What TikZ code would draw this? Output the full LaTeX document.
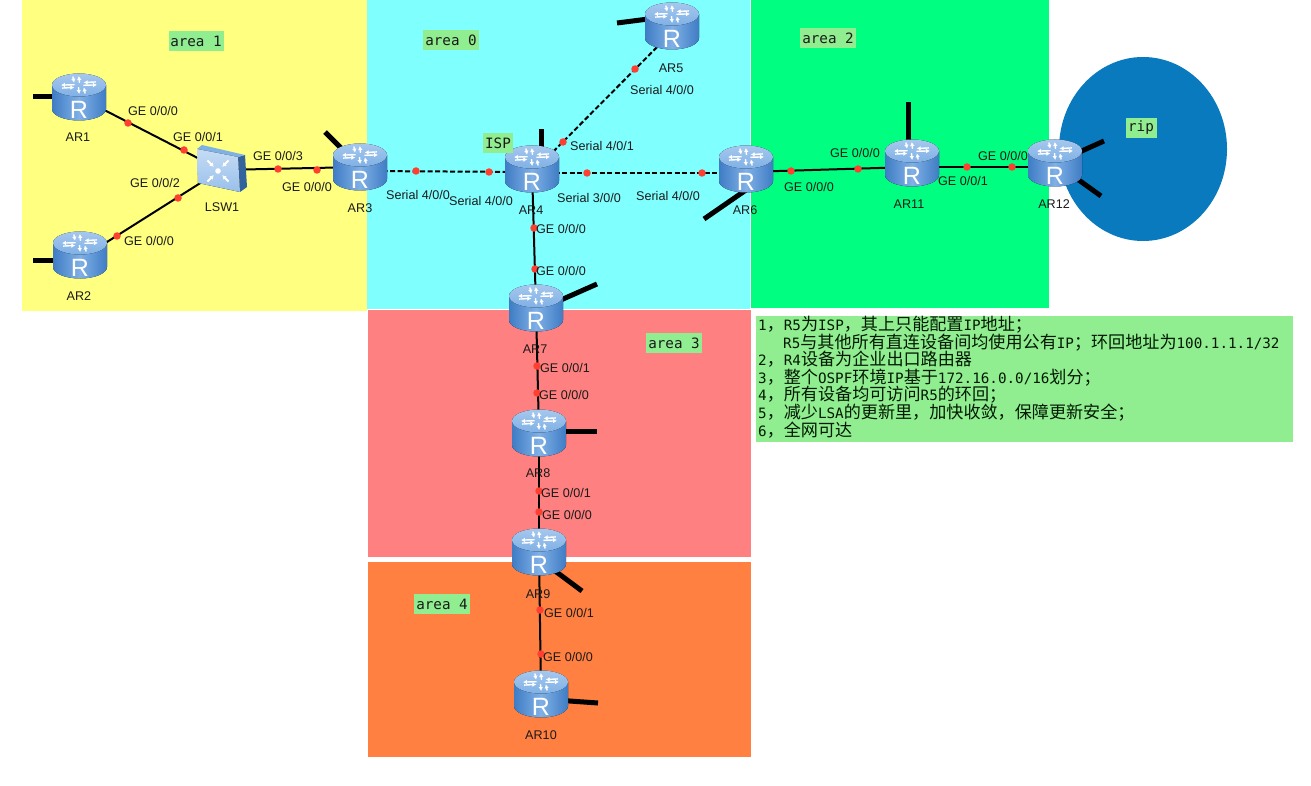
\documentclass[tikz,border=0pt]{standalone}
\usepackage{fontspec}
\setmainfont{Liberation Sans}
\newfontfamily\monof{DejaVu Sans Mono}
\newfontfamily\cjkf{Noto Sans CJK SC}
\usetikzlibrary{calc,arrows.meta}
\definecolor{yel}{HTML}{FFFF80}
\definecolor{cya}{HTML}{80FFFF}
\definecolor{grn}{HTML}{00FF80}
\definecolor{redb}{HTML}{FF8080}
\definecolor{ora}{HTML}{FF8040}
\definecolor{ripc}{HTML}{0A7ABF}
\definecolor{note}{HTML}{90EE90}
\definecolor{dotc}{HTML}{FF4030}
\definecolor{txt}{HTML}{1A1A1A}
\definecolor{rd}{HTML}{3F7CC4}
\definecolor{rl}{HTML}{7FB0E6}
\newcommand{\C}[1]{{\cjkf\fontsize{17.1}{18}\selectfont #1}}
\tikzset{
 x=1pt,y=-1pt,
 rbox/.style={minimum width=54pt,minimum height=47pt,inner sep=0pt,outer sep=0pt},
 sbox/.style={minimum width=50pt,minimum height=46pt,inner sep=0pt,outer sep=0pt},
 link/.style={line width=2pt,black},
 serial/.style={link,dash pattern=on 5pt off 2.5pt},
 stub/.style={line width=5pt,black},
 dotn/.style={circle,fill=dotc,draw=none,minimum size=7.5pt,inner sep=0pt},
 lbl/.style={font=\fontsize{12.6}{14}\selectfont,text=txt,inner sep=0pt},
 rname/.style={font=\fontsize{12.6}{14}\selectfont,text=txt,inner sep=0pt},
 tag/.style={fill=note,font=\monof\fontsize{14.25}{16}\selectfont,text=txt,inner sep=0pt,minimum height=19.5pt},
 noteline/.style={anchor=base west,inner sep=0pt,font=\monof\fontsize{14.25}{17}\selectfont,text=black!80!green!50!black},
 pics/routericon/.style={code={
  \fill[left color=rd,right color=rd,middle color=rl] (-27,-12) -- (-27,12) arc[x radius=27,y radius=11.5,start angle=180,end angle=0] -- (27,-12) -- cycle;
  \fill[top color=rl!70!white,bottom color=rl] (0,-12) ellipse[x radius=27,y radius=11.5];
  \foreach \a in {20,110,200,290}{
   \begin{scope}[shift={(0,-12)},yscale=0.5,rotate=\a]
    \draw[white,line width=1.4pt,-{Latex[length=4pt,width=4.5pt]}] (4,2) -- (17,6);
    \draw[white,line width=1.4pt,{Latex[length=4pt,width=4.5pt]}-] (6,-3) -- (18,0);
   \end{scope}}
  \node[inner sep=0pt,text=white,font=\fontsize{25}{25}\selectfont] at (0,12.5) {R};
 }},
}
\begin{document}
\begin{tikzpicture}
\useasboundingbox (0,0) rectangle (1311,786);
\fill[white] (0,0) rectangle (1311,786);
% areas
\fill[yel] (22,0) rectangle (367,311);
\fill[cya] (367,0) rectangle (750,309);
\fill[grn] (751,0) rectangle (1049,308);
\fill[redb] (368,310) rectangle (751,557);
\fill[ora] (368,562) rectangle (751,757);
\fill[ripc] (1143,149) ellipse[x radius=84,y radius=92];
\fill[note] (756,316) rectangle (1293,442);
% device nodes
\node[rbox] (AR1) at (79,97) {};
\node[rbox] (AR2) at (80,255) {};
\node[rbox] (AR3) at (360,167) {};
\node[rbox] (AR4) at (532,169) {};
\node[rbox] (AR5) at (672,26) {};
\node[rbox] (AR6) at (746,169) {};
\node[rbox] (AR7) at (536,308) {};
\node[rbox] (AR8) at (539,433) {};
\node[rbox] (AR9) at (539,552) {};
\node[rbox] (AR10) at (541,694) {};
\node[rbox] (AR11) at (912,163) {};
\node[rbox] (AR12) at (1055,163) {};
\node[sbox] (LSW1) at (221,170) {};
% stubs
\coordinate (s1) at (33,97);
\coordinate (s2) at (33,261);
\coordinate (s3) at (325,132);
\coordinate (s4) at (541,129);
\coordinate (s5) at (617,23);
\coordinate (s6) at (704,219);
\coordinate (s7) at (597,284);
\coordinate (s8) at (597,431);
\coordinate (s9) at (582,591);
\coordinate (s10) at (598,703);
\coordinate (s11) at (908,102);
\coordinate (s12) at (1104,141);
\coordinate (s13) at (1101,196);
\draw[stub] (AR1.center) -- (s1);
\draw[stub] ([yshift=-6pt]AR2.center) -- (s2);
\draw[stub] (AR3.center) -- (s3);
\draw[stub] ([xshift=9pt]AR4.center) -- (s4);
\draw[stub] ([yshift=10pt]AR5.center) -- (s5);
\draw[stub] ([yshift=-21pt]AR6.center) -- (s6);
\draw[stub] ([yshift=-3pt]AR7.center) -- (s7);
\draw[stub] ([yshift=2pt]AR8.center) -- (s8);
\draw[stub] ([yshift=-7pt]AR9.center) -- (s9);
\draw[stub] ([yshift=-5pt]AR10.center) -- (s10);
\draw[stub] ([xshift=-4pt]AR11.center) -- (s11);
\draw[stub] (AR12.center) -- (s12);
\draw[stub] (AR12.center) -- (s13);
% links
\draw[link] (AR1.center) -- (LSW1.center);
\draw[link] ([yshift=-4pt]AR2.center) -- (LSW1.center);
\draw[link] (LSW1.center) -- (AR3.center);
\draw[serial] ([yshift=-4pt]AR3.center) -- ([yshift=-3pt]AR4.center);
\draw[serial] ([yshift=-4pt]AR4.center) -- ([yshift=-6pt]AR5.center);
\draw[serial] ([yshift=-4pt]AR4.center) -- ([yshift=-4pt]AR6.center);
\draw[link] (AR4.center) -- (AR7.center);
\draw[link] (AR7.center) -- (AR8.center);
\draw[link] (AR8.center) -- (AR9.center);
\draw[link] (AR9.center) -- (AR10.center);
\draw[link] ([yshift=-3pt]AR6.center) -- ([yshift=-4pt]AR11.center);
\draw[link] ([yshift=-4pt]AR11.center) -- ([yshift=-4pt]AR12.center);
% dots
\foreach \i/\x/\y in {1/128/123,2/184/150,3/178/198,4/117/236,5/278/169,6/317/170,7/416/171,8/489/172,9/587/173,10/702/173,11/563/142,12/635/69,13/534/228,14/535/269,15/537/366,16/537/393,17/539/491,18/539/512,19/540/610,20/541/654,21/791/171,22/858/169,23/967/167,24/1012/167}
  \node[dotn] (d\i) at (\x,\y) {};
% icons
\foreach \n in {AR1,AR2,AR3,AR4,AR5,AR6,AR7,AR8,AR9,AR10,AR11,AR12}
  \pic at (\n.center) {routericon};
% switch
\fill[rd!80!black] (238,157) -- (245,155) -- (247,187) -- (240,192) -- cycle;
\fill[rl] (197,149) -- (202,145) -- (245,155) -- (238,157) -- cycle;
\fill[top color=rl!45!white,bottom color=rl!80!white] (197,149) -- (238,157) -- (240,192) -- (198,183) -- cycle;
\begin{scope}[shift={(218,171)}]
 \foreach \a in {45,135,225,315}
  \draw[white,line width=1.8pt,-{Latex[length=4pt,width=5pt]},rotate=\a] (15,0) -- (6,0);
 \fill[white] (0,0) circle (2.8);
\end{scope}
% device names
\node[rname] (nAR1) at (78,137) {AR1};
\node[rname] (nAR2) at (79,296) {AR2};
\node[rname] (nAR3) at (360,208) {AR3};
\node[rname] (nAR4) at (531,210) {AR4};
\node[rname] (nAR5) at (671,68) {AR5};
\node[rname] (nAR6) at (745,210) {AR6};
\node[rname] (nAR7) at (535,349) {AR7};
\node[rname] (nAR8) at (538,473) {AR8};
\node[rname] (nAR9) at (538,594) {AR9};
\node[rname] (nAR10) at (541,735) {AR10};
\node[rname] (nAR11) at (909,204) {AR11};
\node[rname] (nAR12) at (1054,204) {AR12};
\node[rname] (nLSW1) at (222,207) {LSW1};
% port labels
\foreach \i/\x/\y/\t in {1/153/111/{GE 0/0/0},2/198/137/{GE 0/0/1},3/155/183/{GE 0/0/2},4/149/241/{GE 0/0/0},5/278/156/{GE 0/0/3},6/307/187/{GE 0/0/0},7/418/195/{Serial 4/0/0},8/481/201/{Serial 4/0/0},9/589/198/{Serial 3/0/0},10/668/196/{Serial 4/0/0},11/602/146/{Serial 4/0/1},12/662/90/{Serial 4/0/0},13/561/229/{GE 0/0/0},14/561/271/{GE 0/0/0},15/565/368/{GE 0/0/1},16/564/395/{GE 0/0/0},17/566/493/{GE 0/0/1},18/567/515/{GE 0/0/0},19/569/613/{GE 0/0/1},20/568/657/{GE 0/0/0},21/809/187/{GE 0/0/0},22/855/153/{GE 0/0/0},23/963/181/{GE 0/0/1},24/1003/156/{GE 0/0/0}}
  \node[lbl] (p\i) at (\x,\y) {\t};
% tags
\node[tag,minimum width=55pt] (tag1) at (196,41) {area 1};
\node[tag,minimum width=56pt] (tag0) at (451,40) {area 0};
\node[tag,minimum width=56pt] (tag2) at (828,38) {area 2};
\node[tag,minimum width=56pt] (tag3) at (674,343) {area 3};
\node[tag,minimum width=56pt] (tag4) at (442,604) {area 4};
\node[tag,minimum width=30pt] (tagi) at (498,143) {ISP};
\node[tag,minimum width=31pt] (tagr) at (1141,128) {rip};
% note
\node[noteline] (n1) at (758,330.5) {1\C{，}R5\C{为}ISP\C{，其上只能配置}IP\C{地址；}};
\node[noteline] (n2) at (783,348) {R5\C{与其他所有直连设备间均使用公有}IP\C{；环回地址为}100.1.1.1/32};
\node[noteline] (n3) at (758,365.5) {2\C{，}R4\C{设备为企业出口路由器}};
\node[noteline] (n4) at (758,383) {3\C{，整个}OSPF\C{环境}IP\C{基于}172.16.0.0/16\C{划分；}};
\node[noteline] (n5) at (758,400.5) {4\C{，所有设备均可访问}R5\C{的环回；}};
\node[noteline] (n6) at (758,418) {5\C{，减少}LSA\C{的更新里，加快收敛，保障更新安全；}};
\node[noteline] (n7) at (758,436) {6\C{，全网可达}};
\end{tikzpicture}
\end{document}
